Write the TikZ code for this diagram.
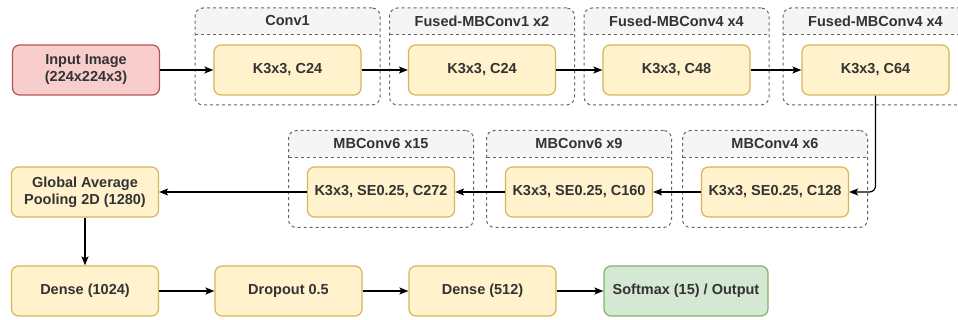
\documentclass[tikz,border=0pt]{standalone}
\usepackage{fontspec}
\setmainfont{Liberation Sans}
\usetikzlibrary{arrows.meta}

% box colours
\definecolor{layerfill}{HTML}{FFF2CC}
\definecolor{layerline}{HTML}{D6B656}
\definecolor{inputfill}{HTML}{F8CECC}
\definecolor{inputline}{HTML}{B85450}
\definecolor{outputfill}{HTML}{D5E8D4}
\definecolor{outputline}{HTML}{82B366}
\definecolor{stageline}{HTML}{666666}
\definecolor{stagehead}{HTML}{F5F5F5}
\definecolor{textgray}{HTML}{333333}

\begin{document}
\begin{tikzpicture}[x=1pt, y=-1pt,
  font=\fontsize{14.5}{17}\selectfont\bfseries, text=textgray,
  layer/.style={draw=layerline, fill=layerfill, line width=1.2pt, rounded corners=7pt,
    minimum width=147pt, minimum height=50pt, align=center, inner sep=0pt},
  inputbox/.style={layer, draw=inputline, fill=inputfill},
  outputbox/.style={layer, draw=outputline, fill=outputfill, minimum width=164pt},
  stage/.style={draw=stageline, line width=1pt, dash pattern=on 3pt off 3pt,
    rounded corners=8pt, minimum width=185pt, minimum height=97pt, inner sep=0pt,
    path picture={
      \fill[stagehead, sharp corners] (path picture bounding box.north west)
        rectangle ([yshift=-27pt]path picture bounding box.north east);
      \draw[stageline, sharp corners, line width=1pt, dash pattern=on 3pt off 3pt]
        ([yshift=-27pt]path picture bounding box.north west)
        -- ([yshift=-27pt]path picture bounding box.north east);}},
  link/.style={-{Stealth[length=9pt, width=7pt, inset=2pt]}, line width=1.2pt, black}
]
\useasboundingbox (0,0) rectangle (958,320);

% input
\node[inputbox] (input) at (86,70) {Input Image\\(224x224x3)};

% first row of stages
\node[stage] (s1) at (287.5,56.5) {};
\node (t1) at ([yshift=-13.5pt]s1.north) {Conv1};
\node[layer] (c1) at (287.5,70) {K3x3, C24};

\node[stage] (s2) at (482,56.5) {};
\node (t2) at ([yshift=-13.5pt]s2.north) {Fused-MBConv1 x2};
\node[layer] (c2) at (482,70) {K3x3, C24};

\node[stage] (s3) at (676.5,56.5) {};
\node (t3) at ([yshift=-13.5pt]s3.north) {Fused-MBConv4 x4};
\node[layer] (c3) at (676.5,70) {K3x3, C48};

\node[stage] (s4) at (875.5,56.5) {};
\node (t4) at ([yshift=-13.5pt]s4.north) {Fused-MBConv4 x4};
\node[layer] (c4) at (875.5,70) {K3x3, C64};

% second row, running right to left
\node[stage] (s5) at (775,179) {};
\node (t5) at ([yshift=-13.5pt]s5.north) {MBConv4 x6};
\node[layer] (c5) at (775,192) {K3x3, SE0.25, C128};

\node[stage] (s6) at (579,179) {};
\node (t6) at ([yshift=-13.5pt]s6.north) {MBConv6 x9};
\node[layer] (c6) at (579,192) {K3x3, SE0.25, C160};

\node[stage] (s7) at (381,179) {};
\node (t7) at ([yshift=-13.5pt]s7.north) {MBConv6 x15};
\node[layer] (c7) at (381,192) {K3x3, SE0.25, C272};

\node[layer] (pool) at (85,192) {Global Average\\Pooling 2D (1280)};

% classifier head
\node[layer] (dense1) at (85,291) {Dense (1024)};
\node[layer] (drop) at (288.5,291) {Dropout 0.5};
\node[layer] (dense2) at (482.5,291) {Dense (512)};
\node[outputbox] (out) at (686,291) {Softmax (15) / Output};

% arrows
\draw[link] (input) -- (c1);
\draw[link] (c1) -- (c2);
\draw[link] (c2) -- (c3);
\draw[link] (c3) -- (c4);
\draw[link, rounded corners=6pt] (c4.south) |- (c5.east);
\draw[link] (c5) -- (c6);
\draw[link] (c6) -- (c7);
\draw[link] (c7) -- (pool);
\draw[link] (pool) -- (dense1);
\draw[link] (dense1) -- (drop);
\draw[link] (drop) -- (dense2);
\draw[link] (dense2) -- (out);

\end{tikzpicture}
\end{document}
